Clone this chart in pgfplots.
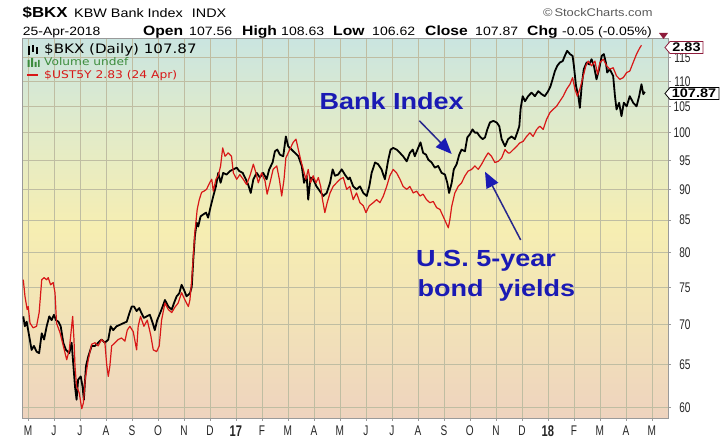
\documentclass[border=0pt]{standalone}
\usepackage{pgfplots}
\pgfplotsset{compat=1.18}
\usepackage{fontspec}
\usetikzlibrary{arrows.meta}
\setmainfont{Liberation Sans}
\newfontfamily\wide[FakeStretch=1.16]{Liberation Sans}
\newfontfamily\narrow[FakeStretch=0.72]{Liberation Sans}
\newfontfamily\legfont[FakeStretch=1.16]{DejaVu Sans}
\definecolor{bgtop}{HTML}{CAE5E0}
\definecolor{bggreen}{HTML}{E2EBC8}
\definecolor{bgyel}{HTML}{F6EEB2}
\definecolor{bgmid}{HTML}{F2E2B8}
\definecolor{bgbot}{HTML}{EED3BE}
\definecolor{gridc}{HTML}{BFBDA2}
\definecolor{framec}{HTML}{9A9A9A}
\definecolor{redl}{HTML}{D81818}
\definecolor{annblue}{HTML}{1A1AB4}
\definecolor{arrowc}{HTML}{28288C}
\definecolor{maroonc}{HTML}{8E1B3B}
\definecolor{volgreen}{HTML}{3C8C3C}
\pgfdeclareverticalshading{bgshade}{100bp}{color(0bp)=(bgbot); color(25bp)=(bgbot); color(37.5bp)=(bgmid); color(50bp)=(bgyel); color(62.5bp)=(bggreen); color(75bp)=(bgtop); color(100bp)=(bgtop)}
\begin{document}
\begin{tikzpicture}[x=1pt,y=1pt]
\path[use as bounding box] (0,0) rectangle (720,440);
\begin{axis}[
  at={(22.5pt,22pt)}, anchor=south west,
  scale only axis, width=645.5pt, height=379.5pt,
  xmin=-0.21, xmax=24.62,
  ymode=log, ymin=58.87, ymax=119.1,
  xtick={0,1,2,3,4,5,6,7,8,9,10,11,12,13,14,15,16,17,18,19,20,21,22,23,24},
  xticklabels={M,J,J,A,S,O,N,D,{\bfseries\fontsize{15.5}{15.5}\selectfont 17},F,M,A,M,J,J,A,S,O,N,D,{\bfseries\fontsize{15.5}{15.5}\selectfont 18},F,M,A,M},
  ytick={60,65,70,75,80,85,90,95,100,105,110,115},
  yticklabels={60,65,70,75,80,85,90,95,100,105,110,115},
  xtick pos=left, ytick pos=right, yticklabel pos=right,
  tick align=outside, major tick length=3pt,
  tick style={color=framec, line width=0.6pt},
  grid=major, major grid style={color=gridc, line width=0.6pt},
  axis line style={color=framec, line width=0.8pt},
  axis background/.style={shading=bgshade},
  ticklabel style={font=\narrow\fontsize{14}{14}\selectfont, text=black!85},
  yticklabel style={anchor=east, xshift=23pt},
  xticklabel style={yshift=-1pt},
]
\addplot[black, line width=1.8pt, line join=round] coordinates {
(-0.18,71.1) (-0.12,69.8) (-0.05,70.4) (0.05,68.5) (0.14,66.8) (0.23,67.3) (0.33,66.6) (0.43,66.4) (0.53,68.9) (0.62,68.1) (0.72,69.8) (0.82,71.1) (0.91,70.6) (1.0,71.3) (1.08,70.6) (1.17,70.4) (1.26,69.8) (1.36,67.7) (1.46,66.8) (1.59,66.4) (1.68,67.7) (1.74,65.2) (1.81,62.4) (1.87,60.9) (1.93,63.2) (2.03,63.6) (2.10,62.4) (2.15,60.9) (2.23,64.8) (2.32,66.0) (2.45,67.3) (2.58,67.3) (2.70,67.7) (2.83,68.1) (2.96,67.7) (3.09,68.1) (3.18,69.8) (3.28,69.3) (3.41,69.8) (3.54,70.0) (3.67,70.2) (3.80,70.4) (3.90,71.5) (3.99,72.4) (4.08,72.4) (4.18,71.8) (4.28,72.2) (4.37,71.5) (4.46,70.9) (4.57,71.1) (4.69,71.3) (4.80,70.2) (4.88,69.3) (4.97,70.6) (5.08,71.5) (5.18,72.4) (5.27,73.3) (5.40,72.4) (5.53,72.0) (5.62,72.9) (5.72,73.8) (5.82,74.2) (5.91,75.4) (6.0,74.7) (6.10,73.8) (6.23,74.2) (6.30,75.1) (6.36,79.0) (6.42,82.5) (6.49,84.6) (6.55,84.0) (6.64,85.6) (6.74,85.9) (6.85,86.2) (6.93,85.4) (7.03,87.2) (7.13,88.9) (7.23,90.5) (7.32,92.8) (7.41,91.1) (7.51,92.8) (7.64,92.5) (7.77,93.1) (7.90,93.4) (8.03,93.7) (8.13,93.1) (8.26,92.8) (8.38,91.7) (8.47,90.8) (8.57,89.4) (8.67,91.7) (8.80,92.8) (8.92,92.0) (9.05,92.8) (9.18,91.7) (9.28,93.4) (9.41,94.6) (9.50,96.6) (9.59,96.9) (9.69,96.0) (9.82,95.7) (9.92,99.3) (10.01,97.5) (10.14,96.9) (10.27,96.3) (10.40,95.7) (10.53,94.0) (10.62,91.1) (10.72,92.3) (10.78,88.3) (10.87,92.0) (10.97,91.7) (11.10,90.5) (11.23,89.7) (11.36,88.9) (11.49,89.4) (11.62,91.1) (11.72,93.4) (11.81,92.3) (11.93,92.5) (12.07,93.4) (12.19,92.5) (12.32,91.7) (12.38,92.0) (12.51,90.5) (12.64,90.0) (12.77,90.5) (12.90,89.4) (13.03,88.9) (13.13,90.5) (13.22,92.8) (13.35,94.6) (13.47,94.3) (13.60,93.4) (13.73,91.7) (13.86,95.1) (13.95,96.9) (14.05,97.2) (14.18,96.9) (14.31,96.3) (14.43,95.7) (14.57,94.8) (14.69,96.3) (14.80,96.9) (14.88,95.7) (15.01,97.2) (15.10,98.2) (15.20,96.3) (15.31,96.0) (15.40,95.1) (15.53,94.6) (15.65,93.7) (15.78,94.0) (15.91,92.8) (16.04,92.5) (16.13,91.1) (16.20,89.4) (16.30,91.1) (16.38,93.4) (16.49,94.3) (16.59,96.0) (16.68,96.9) (16.81,96.6) (16.90,99.1) (17.0,99.7) (17.10,100.6) (17.19,100.0) (17.28,100.0) (17.38,99.3) (17.49,98.8) (17.58,99.1) (17.67,100.6) (17.77,101.9) (17.90,102.2) (18.03,101.9) (18.13,101.2) (18.22,98.8) (18.35,97.5) (18.47,98.8) (18.60,99.3) (18.73,98.8) (18.82,100.0) (18.90,101.2) (18.95,104.5) (19.03,107.0) (19.12,106.0) (19.24,107.0) (19.37,107.7) (19.50,107.0) (19.63,108.0) (19.76,107.4) (19.88,107.0) (20.01,108.0) (20.10,109.0) (20.18,110.4) (20.27,112.1) (20.36,113.2) (20.46,113.9) (20.57,114.2) (20.65,115.3) (20.74,116.4) (20.85,115.7) (20.95,115.3) (21.0,113.2) (21.08,109.1) (21.17,107.0) (21.23,104.7) (21.30,109.1) (21.38,112.5) (21.49,113.9) (21.59,113.5) (21.68,114.6) (21.77,113.2) (21.87,110.4) (21.97,112.5) (22.07,115.3) (22.15,115.7) (22.23,113.9) (22.28,111.8) (22.38,112.5) (22.51,111.1) (22.58,107.0) (22.64,104.4) (22.74,105.7) (22.83,103.1) (22.92,105.7) (23.03,105.0) (23.15,107.0) (23.28,105.7) (23.41,105.0) (23.51,107.0) (23.60,109.4) (23.67,107.4) (23.73,107.87)
};
\addplot[redl, line width=1.2pt, line join=round] coordinates {
(-0.18,76.1) (-0.115,73.8) (-0.03,72.0) (0.01,72.4) (0.08,70.2) (0.20,69.6) (0.33,69.8) (0.43,71.6) (0.53,76.1) (0.62,76.4) (0.72,76.1) (0.78,76.4) (0.87,75.4) (0.97,75.7) (1.04,74.3) (1.10,70.2) (1.23,69.0) (1.36,67.3) (1.49,65.6) (1.59,66.8) (1.68,69.8) (1.72,71.1) (1.77,68.1) (1.81,64.8) (1.87,62.4) (1.97,61.7) (2.07,59.9) (2.13,60.5) (2.20,63.2) (2.32,65.6) (2.45,67.5) (2.58,67.7) (2.70,67.3) (2.83,68.1) (2.96,67.7) (3.03,64.96) (3.09,63.6) (3.15,64.8) (3.22,67.3) (3.35,67.7) (3.47,68.1) (3.60,68.3) (3.73,67.9) (3.82,69.3) (3.92,69.8) (4.05,69.1) (4.18,66.8) (4.24,69.8) (4.33,71.1) (4.46,69.8) (4.59,70.6) (4.72,68.7) (4.82,66.8) (4.95,66.6) (5.05,67.3) (5.14,70.6) (5.27,72.9) (5.40,72.0) (5.53,71.6) (5.65,72.3) (5.78,72.9) (5.91,74.3) (6.04,73.3) (6.17,72.4) (6.23,73.3) (6.30,76.1) (6.36,79.5) (6.42,83.1) (6.51,86.7) (6.59,88.3) (6.68,89.5) (6.77,89.7) (6.87,90.0) (7.0,91.2) (7.07,91.7) (7.13,89.7) (7.23,91.7) (7.32,92.3) (7.41,94.0) (7.49,97.2) (7.58,95.7) (7.70,96.3) (7.83,95.7) (7.90,92.8) (8.03,91.7) (8.15,92.5) (8.28,91.7) (8.41,90.8) (8.54,92.3) (8.67,94.3) (8.77,92.8) (8.86,91.1) (8.99,92.8) (9.12,91.4) (9.20,89.2) (9.31,91.1) (9.43,93.4) (9.57,94.0) (9.67,91.7) (9.76,88.9) (9.85,91.7) (9.92,95.4) (10.01,96.3) (10.10,97.2) (10.20,98.2) (10.31,98.8) (10.40,96.9) (10.49,95.1) (10.59,93.4) (10.69,91.7) (10.78,93.4) (10.87,91.1) (10.97,92.3) (11.08,91.1) (11.17,92.0) (11.26,90.5) (11.33,88.3) (11.42,86.2) (11.51,87.8) (11.62,89.4) (11.74,90.5) (11.87,91.1) (12.0,91.7) (12.13,92.0) (12.26,90.0) (12.38,90.5) (12.51,88.3) (12.64,89.4) (12.77,87.8) (12.90,87.3) (13.0,86.2) (13.13,87.3) (13.28,87.8) (13.41,88.3) (13.54,87.8) (13.67,88.9) (13.80,90.5) (13.92,92.3) (14.05,93.4) (14.18,92.8) (14.31,91.7) (14.43,90.5) (14.57,90.0) (14.69,90.5) (14.82,89.4) (14.95,89.7) (15.08,88.9) (15.20,89.2) (15.33,88.3) (15.46,87.8) (15.59,88.0) (15.72,87.0) (15.85,86.7) (15.97,85.6) (16.08,84.6) (16.17,83.8) (16.23,85.1) (16.30,87.2) (16.42,89.4) (16.55,90.5) (16.68,91.1) (16.81,92.3) (16.93,93.1) (17.07,93.4) (17.19,94.0) (17.32,93.4) (17.45,94.3) (17.58,95.4) (17.70,96.3) (17.83,95.7) (17.96,94.6) (18.09,94.8) (18.22,95.4) (18.35,96.9) (18.47,96.3) (18.54,96.3) (18.67,96.9) (18.80,97.5) (18.92,98.1) (19.05,98.4) (19.18,99.3) (19.31,99.96) (19.43,99.3) (19.57,100.6) (19.69,101.2) (19.82,100.6) (19.95,102.5) (20.08,103.8) (20.20,104.4) (20.33,105.0) (20.46,106.0) (20.59,107.0) (20.72,108.4) (20.85,109.4) (20.95,110.75) (21.04,108.4) (21.13,107.0) (21.23,108.4) (21.36,111.1) (21.46,113.2) (21.55,114.2) (21.68,113.2) (21.81,114.2) (21.91,111.4) (22.0,113.9) (22.13,114.6) (22.26,113.2) (22.38,112.5) (22.51,112.8) (22.64,111.1) (22.77,110.4) (22.90,110.75) (23.03,111.8) (23.15,112.1) (23.28,113.9) (23.41,115.7) (23.54,117.1) (23.60,117.6)
};
\end{axis}
% header
\node[anchor=base west,inner sep=0] at (22.5,422) {\wide\bfseries\fontsize{14.5}{15}\selectfont \$BKX};
\node[anchor=base west,inner sep=0] at (74,422) {\wide\fontsize{12.4}{13}\selectfont KBW Bank Index};
\node[anchor=base west,inner sep=0] at (191.7,422) {\wide\fontsize{12.4}{13}\selectfont INDX};
\node[anchor=base west,inner sep=0,text=black!65] at (543,423) {\wide\fontsize{11.1}{12}\selectfont \textcopyright\,StockCharts.com};
\node[anchor=base west,inner sep=0] at (22.7,404) {\wide\fontsize{12}{12}\selectfont 25-Apr-2018};
\node[anchor=base west,inner sep=0] at (143,404) {\wide\bfseries\fontsize{13.5}{14}\selectfont Open};
\node[anchor=base west,inner sep=0] at (189,404) {\wide\fontsize{12.1}{12}\selectfont 107.56};
\node[anchor=base west,inner sep=0] at (242,404) {\wide\bfseries\fontsize{13.5}{14}\selectfont High};
\node[anchor=base west,inner sep=0] at (281,404) {\wide\fontsize{12.1}{12}\selectfont 108.63};
\node[anchor=base west,inner sep=0] at (333,404) {\wide\bfseries\fontsize{13.5}{14}\selectfont Low};
\node[anchor=base west,inner sep=0] at (372,404) {\wide\fontsize{12.1}{12}\selectfont 106.62};
\node[anchor=base west,inner sep=0] at (425,404) {\wide\bfseries\fontsize{13.5}{14}\selectfont Close};
\node[anchor=base west,inner sep=0] at (475,404) {\wide\fontsize{12.1}{12}\selectfont 107.87};
\node[anchor=base west,inner sep=0] at (527,404) {\wide\bfseries\fontsize{13.5}{14}\selectfont Chg};
\node[anchor=base west,inner sep=0] at (562,404) {\wide\fontsize{12.1}{12}\selectfont -0.05 (-0.05\%)};
\fill[maroonc] (659,407) -- (668,407) -- (663.5,401) -- cycle;
% legend
\draw[black, line width=1.1pt] (29,385) -- (29,394) (28,391) -- (30,391) (33,388) -- (33,395) (32,392)--(34,392) (37,386) -- (37,393) (36,389)--(38,389);
\node[anchor=base west,inner sep=0] at (44,386) {\legfont\fontsize{13}{13}\selectfont \$BKX (Daily) 107.87};
\fill[volgreen] (27.5,373) rectangle (29.5,380) (31,373) rectangle (33,382) (34.5,373) rectangle (36.5,378) (38,373) rectangle (39.5,380);
\node[anchor=base west,inner sep=0,text=volgreen] at (44,374) {\legfont\fontsize{10.5}{11}\selectfont Volume undef};
\draw[redl, line width=2.5pt] (27,365) -- (38,365);
\node[anchor=base west,inner sep=0,text=redl] at (44,361) {\legfont\fontsize{10.6}{11}\selectfont \$UST5Y 2.83 (24 Apr)};
% price tags
\draw[maroonc, line width=0.8pt, fill=white] (665,392.5) -- (670,398.5) -- (703,398.5) -- (703,386.5) -- (670,386.5) -- cycle;
\node[inner sep=0] at (686.5,392.5) {\wide\bfseries\fontsize{12.5}{13}\selectfont 2.83};
\draw[black, line width=0.8pt, fill=white] (665,346.5) -- (670,352.5) -- (719,352.5) -- (719,340.5) -- (670,340.5) -- cycle;
\node[inner sep=0] at (694,346.5) {\wide\bfseries\fontsize{12.5}{13}\selectfont 107.87};
% annotations
\node[anchor=base west,inner sep=0,text=annblue] at (319.3,330) {\wide\bfseries\fontsize{23.3}{24}\selectfont Bank Index};
\node[anchor=base west,inner sep=0,text=annblue] at (416,173.3) {\wide\bfseries\fontsize{23.3}{24}\selectfont U.S. 5-year};
\node[anchor=base west,inner sep=0,text=annblue] at (417.3,143.3) {\wide\bfseries\fontsize{23.3}{24}\selectfont bond\ \ yields};
\draw[arrowc, line width=1.5pt, -{Triangle[length=16pt,width=13pt,color=annblue]}] (419.3,319.3) -- (451.7,286);
\draw[arrowc, line width=1.5pt, -{Triangle[length=16pt,width=13pt,color=annblue]}] (520.7,200) -- (485,268.3);
\end{tikzpicture}
\end{document}
